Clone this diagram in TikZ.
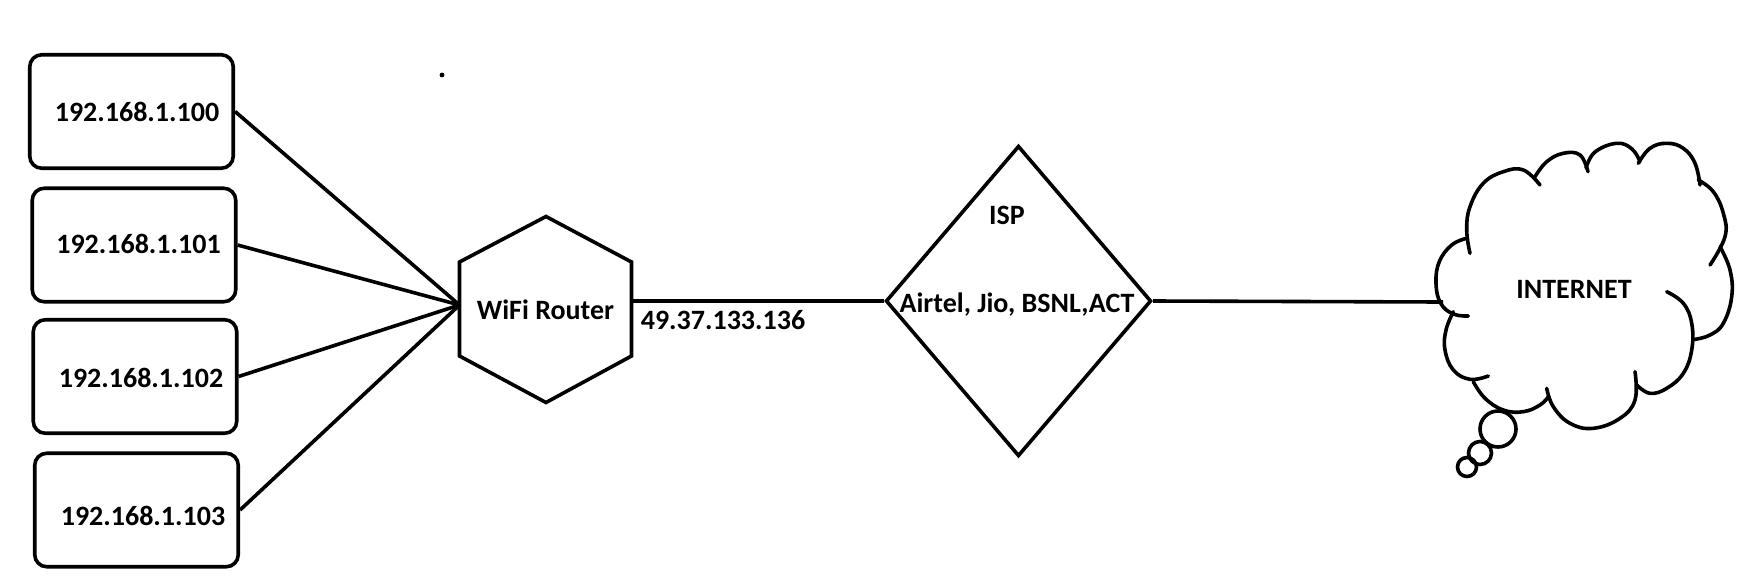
\documentclass[tikz,border=0pt]{standalone}
\usepackage{fontspec}
\setmainfont{Carlito}
\usetikzlibrary{shapes.geometric}
\tikzset{
  pc/.style={x=1pt,y=-1pt},
  stroke/.style={line width=3.6pt, black},
  hostbox/.style={stroke, draw, rectangle, rounded corners=12pt, minimum width=203.5pt, minimum height=113.5pt, inner sep=0pt},
  lbl/.style={anchor=base, inner sep=0pt, font=\fontsize{28}{33}\selectfont\bfseries},
  link/.style={stroke},
  ispshape/.style={stroke, draw, diamond, minimum width=265.5pt, minimum height=310.5pt, inner sep=0pt},
  cloudline/.style={stroke, line cap=round}
}
\begin{document}
\begin{tikzpicture}[pc]
\useasboundingbox[fill=white] (0,0) rectangle (1757,587);

% host boxes
\node[hostbox] (b1) at (131.5,111.5) {};
\node[hostbox] (b2) at (134,245) {};
\node[hostbox] (b3) at (135,376.5) {};
\node[hostbox] (b4) at (136.5,510) {};
\node[lbl] (t1) at (137,121) {192.168.1.100};
\node[lbl] (t2) at (138.5,253) {192.168.1.101};
\node[lbl] (t3) at (141,387) {192.168.1.102};
\node[lbl] (t4) at (143,525) {192.168.1.103};

% stray dot
\fill (442,75) circle (2.4);

% router hexagon
\coordinate (hT) at (546,216.5);
\coordinate (hUR) at (631.5,262);
\coordinate (hLR) at (631.5,356);
\coordinate (hB) at (546,402.5);
\coordinate (hLL) at (459.5,356);
\coordinate (hUL) at (459.5,262);
\draw[stroke, line join=miter] (hT) -- (hUR) -- (hLR) -- (hB) -- (hLL) -- (hUL) -- cycle;
\node[lbl] (router) at (545.5,319) {WiFi Router};
\coordinate (rin) at (459.5,305);
\coordinate (rout) at (631.5,301);

\draw[link] (b1.east) -- (rin);
\draw[link] (b2.east) -- (rin);
\draw[link] (b3.east) -- (rin);
\draw[link] (b4.east) -- (rin);

% ISP
\node[ispshape] (isp) at (1018.5,301) {};
\node[lbl] (ispt) at (1007,224) {ISP};
\node[lbl] (prov) at (1017,312) {Airtel, Jio, BSNL,ACT};
\draw[link] (rout) -- (isp.west);
\node[lbl] (wanip) at (723,329) {49.37.133.136};

% cloud
\coordinate (cin) at (1443,302);
\draw[link] (isp.east) -- (cin);
\begin{scope}[cloudline]
\draw plot[smooth, tension=0.7] coordinates {(1470,253.3) (1466.7,230) (1470,206.7) (1483.3,183.3) (1503.3,171.7) (1523.3,170) (1540,185)};
\draw plot[smooth, tension=0.7] coordinates {(1535,176.7) (1546.7,161.7) (1563.3,153.3) (1580,155) (1588,171.7)};
\draw plot[smooth, tension=0.7] coordinates {(1586,168) (1595,152) (1616.7,143.3) (1632,149) (1640,161.7)};
\draw plot[smooth, tension=0.7] coordinates {(1638.3,163.3) (1650,148.3) (1666.7,143.3) (1683.3,148.3) (1695,163.3) (1700,185)};
\draw plot[smooth, tension=0.7] coordinates {(1698.3,180) (1713.3,191.7) (1723.3,213.3) (1725,236.7) (1710,265)};
\draw plot[smooth, tension=0.7] coordinates {(1720,246.7) (1730,270) (1731.7,296.7) (1723.3,323.3) (1710,335) (1695,339.3)};
\draw plot[smooth, tension=0.7] coordinates {(1666.7,291.7) (1683.3,303.3) (1691.7,323.3) (1691.7,350) (1683.3,373.3) (1666.7,388.3) (1650,393.3) (1636.7,385)};
\draw plot[smooth, tension=0.7] coordinates {(1635,371.7) (1635,400) (1620,418.3) (1593.3,428.3) (1570,423.3) (1553.3,406.7) (1546.7,388.3)};
\draw plot[smooth, tension=0.7] coordinates {(1473.3,381.7) (1485,398.3) (1503.3,410) (1523.3,411.7) (1540,405) (1548.3,396.7)};
\draw plot[smooth, tension=0.7] coordinates {(1453.3,311.7) (1446,330) (1445,350) (1453.3,370) (1470,379.3) (1488.3,376)};
\draw plot[smooth, tension=0.7] coordinates {(1466.7,238.3) (1451.7,245) (1439.3,261.7) (1436,283.3) (1440.7,303.3) (1453.3,314) (1468.3,316)};
\end{scope}
\node[lbl] (inet) at (1574,298) {INTERNET};

% thought bubbles
\draw[stroke] (1498,429) circle (18);
\draw[stroke] (1480,453) circle (11.5);
\draw[stroke] (1467,467) circle (9.5);
\end{tikzpicture}
\end{document}
